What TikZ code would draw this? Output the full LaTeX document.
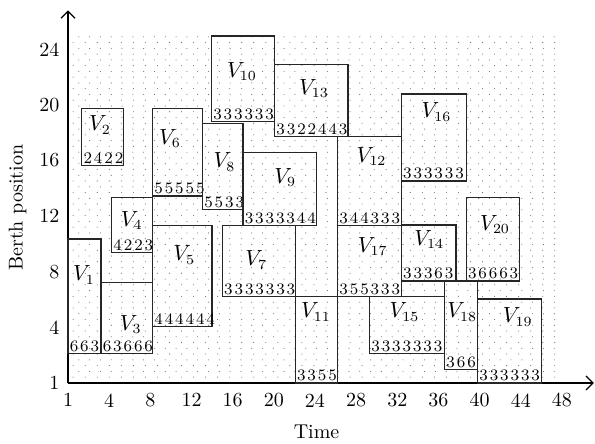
\documentclass[tikz,border=0pt]{standalone}
\usepackage{fontspec}
\newfontfamily\seqfont[LetterSpace=12]{Latin Modern Roman}
\usepackage{tikz}
\usetikzlibrary{arrows.meta}

\begin{document}
\begin{tikzpicture}[x=5.145pt, y=6.95pt,
  ves/.style={draw=black!85, line width=0.6pt},
  vl/.style={font=\fontsize{10.5}{12}\selectfont, inner sep=0pt},
  seq/.style={font=\seqfont\fontsize{8}{9}\selectfont, anchor=south west, inner sep=0.7pt},
  tick/.style={font=\fontsize{10}{11}\selectfont, inner sep=1pt},
  ax/.style={line width=0.6pt, -{Straight Barb[length=3.5pt,width=7pt]}}]
\useasboundingbox (-6.61,-4.39) rectangle (51.21,27.55);
% dotted background
\foreach \a in {0,1.05,...,48.1}
  \foreach \b in {0,0.83,...,25.1}
    \fill[black!55] (\a,\b) circle (0.28pt);
\foreach \a in {0.5,1.67,...,48.1}
  \foreach \b in {0.42,1.25,...,25.1}
    \fill[black!55] (\a,\b) circle (0.28pt);
% axes
\coordinate (O) at (0,0);
\coordinate (xend) at (51.1,0);
\coordinate (yend) at (0,26.8);
\draw[ax] (O) -- (xend);
\draw[ax] (O) -- (yend);
\node[tick] (xt1) at (0,-1.25) {1};
\foreach \t in {4,8,...,48}
  \node[tick] (xt\t) at (\t,-1.25) {\t};
\node[tick, anchor=east] (yt1) at (-0.6,0) {1};
\foreach \t in {4,8,...,24}
  \node[tick, anchor=east] (yt\t) at (-0.6,\t) {\t};
\node[tick] (xlab) at (24.15,-3.5) {Time};
\node[tick, rotate=90] (ylab) at (-4.9,12.6) {Berth position};
% vessels
\draw[ves] (0,2.1) rectangle (3.2,10.35);
\node[vl] (V1) at (1.55,7.77) {$V_{1}$};
\node[seq] (s1) at (0,2.1) {663};
\draw[ves] (1.33,15.63) rectangle (5.37,19.76);
\node[vl] (V2) at (3.1,18.56) {$V_{2}$};
\node[seq] (s2) at (1.33,15.63) {2422};
\draw[ves] (3.2,2.1) rectangle (8.22,7.25);
\node[vl] (V3) at (6.1,4.2) {$V_{3}$};
\node[seq] (s3) at (3.2,2.1) {63666};
\draw[ves] (4.24,9.4) rectangle (8.22,13.36);
\node[vl] (V4) at (6.2,11.7) {$V_{4}$};
\node[seq] (s4) at (4.24,9.4) {4223};
\draw[ves] (8.22,4.05) rectangle (14.0,11.3);
\node[vl] (V5) at (11.3,9.2) {$V_{5}$};
\node[seq] (s5) at (8.22,4.05) {444444};
\draw[ves] (8.22,13.45) rectangle (13.07,19.76);
\node[vl] (V6) at (9.9,17.6) {$V_{6}$};
\node[seq] (s6) at (8.22,13.45) {55555};
\draw[ves] (15.0,6.2) rectangle (22.08,11.3);
\node[vl] (V7) at (18.3,8.85) {$V_{7}$};
\node[seq] (s7) at (15.0,6.2) {3333333};
\draw[ves] (13.07,12.45) rectangle (17.0,18.68);
\node[vl] (V8) at (15.2,15.9) {$V_{8}$};
\node[seq] (s8) at (13.07,12.45) {5533};
\draw[ves] (17.0,11.3) rectangle (24.18,16.57);
\node[vl] (V9) at (21.1,14.8) {$V_{9}$};
\node[seq] (s9) at (17.0,11.3) {3333344};
\draw[ves] (13.94,18.8) rectangle (20.08,24.96);
\node[vl] (V10) at (16.9,22.4) {$V_{10}$};
\node[seq] (s10) at (13.94,18.8) {333333};
\draw[ves] (22.08,0) rectangle (26.2,6.2);
\node[vl] (V11) at (24.1,5.1) {$V_{11}$};
\node[seq] (s11) at (22.08,0) {3355};
\draw[ves] (26.2,11.3) rectangle (32.4,17.72);
\node[vl] (V12) at (29.5,16.3) {$V_{12}$};
\node[seq] (s12) at (26.2,11.3) {344333};
\draw[ves] (20.08,17.72) rectangle (27.2,22.93);
\node[vl] (V13) at (23.9,21.2) {$V_{13}$};
\node[seq] (s13) at (20.08,17.72) {3322443};
\draw[ves] (32.4,7.34) rectangle (37.7,11.37);
\node[vl] (V14) at (35.1,10.3) {$V_{14}$};
\node[seq] (s14) at (32.4,7.34) {33363};
\draw[ves] (29.3,2.1) rectangle (36.6,6.2);
\node[vl] (V15) at (32.7,5.1) {$V_{15}$};
\node[seq] (s15) at (29.3,2.1) {3333333};
\draw[ves] (32.4,14.53) rectangle (38.7,20.79);
\node[vl] (V16) at (35.8,19.5) {$V_{16}$};
\node[seq] (s16) at (32.4,14.53) {333333};
\draw[ves] (26.2,6.2) rectangle (32.4,11.3);
\node[vl] (V17) at (29.6,9.8) {$V_{17}$};
\node[seq] (s17) at (26.2,6.2) {355333};
\draw[ves] (36.6,0.94) rectangle (39.8,7.34);
\node[vl] (V18) at (38.3,5.1) {$V_{18}$};
\node[seq] (s18) at (36.6,0.94) {366};
\draw[ves] (39.8,0) rectangle (46.0,6.04);
\node[vl] (V19) at (43.7,4.75) {$V_{19}$};
\node[seq] (s19) at (39.8,0) {333333};
\draw[ves] (38.7,7.34) rectangle (43.9,13.33);
\node[vl] (V20) at (41.5,11.4) {$V_{20}$};
\node[seq] (s20) at (38.7,7.34) {36663};
\end{tikzpicture}
\end{document}
